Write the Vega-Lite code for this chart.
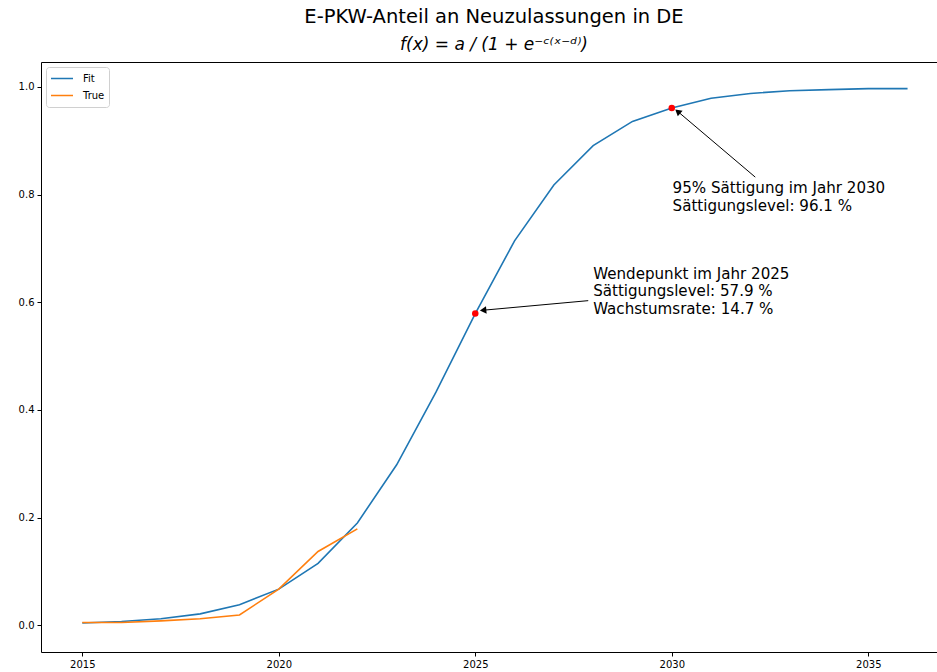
{
  "$schema": "https://vega.github.io/schema/vega-lite/v6.json",
  "autosize": {"type": "none"},
  "width": 898,
  "height": 590,
  "padding": {"left": 41, "top": 62, "right": 0, "bottom": 20},
  "background": "white",
  "config": {
    "font": "DejaVu Sans",
    "view": {"stroke": "#000000", "strokeWidth": 1},
    "axis": {"grid": false, "domain": false, "tickColor": "#000000", "tickSize": 4, "labelColor": "#000000", "labelFontSize": 10, "labelPadding": 3, "titleFontSize": 10}
  },
  "title": {
    "text": "E-PKW-Anteil an Neuzulassungen in DE",
    "subtitle": "f(x) = a / (1 + e⁻ᶜ⁽ˣ⁻ᵈ⁾)",
    "fontSize": 19.5,
    "fontWeight": "normal",
    "color": "#000000",
    "subtitleFontSize": 17,
    "subtitleColor": "#000000",
    "subtitleFontStyle": "italic",
    "subtitlePadding": 10,
    "anchor": "middle",
    "dx": 4,
    "offset": 8
  },
  "datasets": {
    "series": [
      {"year": 2015, "value": 0.004, "series": "Fit"},
      {"year": 2016, "value": 0.007, "series": "Fit"},
      {"year": 2017, "value": 0.012, "series": "Fit"},
      {"year": 2018, "value": 0.021, "series": "Fit"},
      {"year": 2019, "value": 0.038, "series": "Fit"},
      {"year": 2020, "value": 0.067, "series": "Fit"},
      {"year": 2021, "value": 0.115, "series": "Fit"},
      {"year": 2022, "value": 0.19, "series": "Fit"},
      {"year": 2023, "value": 0.298, "series": "Fit"},
      {"year": 2024, "value": 0.433, "series": "Fit"},
      {"year": 2025, "value": 0.579, "series": "Fit"},
      {"year": 2026, "value": 0.714, "series": "Fit"},
      {"year": 2027, "value": 0.818, "series": "Fit"},
      {"year": 2028, "value": 0.891, "series": "Fit"},
      {"year": 2029, "value": 0.936, "series": "Fit"},
      {"year": 2030, "value": 0.961, "series": "Fit"},
      {"year": 2031, "value": 0.979, "series": "Fit"},
      {"year": 2032, "value": 0.988, "series": "Fit"},
      {"year": 2033, "value": 0.993, "series": "Fit"},
      {"year": 2034, "value": 0.995, "series": "Fit"},
      {"year": 2035, "value": 0.997, "series": "Fit"},
      {"year": 2036, "value": 0.997, "series": "Fit"},
      {"year": 2015, "value": 0.005, "series": "True"},
      {"year": 2016, "value": 0.005, "series": "True"},
      {"year": 2017, "value": 0.008, "series": "True"},
      {"year": 2018, "value": 0.012, "series": "True"},
      {"year": 2019, "value": 0.019, "series": "True"},
      {"year": 2020, "value": 0.067, "series": "True"},
      {"year": 2021, "value": 0.137, "series": "True"},
      {"year": 2022, "value": 0.179, "series": "True"}
    ],
    "marks": [
      {"year": 2025, "value": 0.579},
      {"year": 2030, "value": 0.961}
    ],
    "arrows": [
      {"year": 2027.875, "value": 0.603, "year2": 2025.2, "value2": 0.5852},
      {"year": 2032.125, "value": 0.8325, "year2": 2030.152, "value2": 0.9545}
    ],
    "labels": [
      {"year": 2028.0, "value": 0.6438, "label": ["Wendepunkt im Jahr 2025", "Sättigungslevel: 57.9 %", "Wachstumsrate: 14.7 %"]},
      {"year": 2030.02, "value": 0.8028, "label": ["95% Sättigung im Jahr 2030", "Sättigungslevel: 96.1 %"]}
    ]
  },
  "layer": [
    {
      "data": {"name": "series"},
      "mark": {"type": "line", "strokeWidth": 1.6, "clip": true},
      "encoding": {
        "x": {
          "field": "year", "type": "quantitative",
          "scale": {"domain": [2013.95, 2036.8], "nice": false, "zero": false},
          "axis": {"values": [2015, 2020, 2025, 2030, 2035], "format": "d", "title": null}
        },
        "y": {
          "field": "value", "type": "quantitative",
          "scale": {"domain": [-0.0498, 1.0464], "nice": false, "zero": false},
          "axis": {"values": [0, 0.2, 0.4, 0.6, 0.8, 1.0], "format": ".1f", "title": null}
        },
        "color": {
          "field": "series", "type": "nominal",
          "scale": {"domain": ["Fit", "True"], "range": ["#1f77b4", "#ff7f0e"]},
          "legend": {
            "title": null,
            "orient": "top-left",
            "offset": 5,
            "fillColor": "white",
            "strokeColor": "#d0d0d0",
            "cornerRadius": 3,
            "padding": 4,
            "symbolType": "stroke",
            "symbolSize": 484,
            "symbolStrokeWidth": 1.6,
            "clipHeight": 15,
            "rowPadding": 2,
            "labelFontSize": 10,
            "labelOffset": 9,
            "labelColor": "#000000"
          }
        }
      }
    },
    {
      "data": {"name": "marks"},
      "mark": {"type": "point", "filled": true, "color": "#ff0000", "size": 42, "opacity": 1},
      "encoding": {
        "x": {"field": "year", "type": "quantitative"},
        "y": {"field": "value", "type": "quantitative"}
      }
    },
    {
      "data": {"name": "arrows"},
      "mark": {"type": "rule", "color": "#000000", "strokeWidth": 1},
      "encoding": {
        "x": {"field": "year", "type": "quantitative"},
        "y": {"field": "value", "type": "quantitative"},
        "x2": {"field": "year2"},
        "y2": {"field": "value2"}
      }
    },
    {
      "data": {"values": [{"year": 2025.2, "value": 0.5852}]},
      "mark": {"type": "point", "shape": "triangle-up", "filled": true, "color": "#000000", "size": 55, "angle": 264.8, "opacity": 1},
      "encoding": {
        "x": {"field": "year", "type": "quantitative"},
        "y": {"field": "value", "type": "quantitative"}
      }
    },
    {
      "data": {"values": [{"year": 2030.152, "value": 0.9545}]},
      "mark": {"type": "point", "shape": "triangle-up", "filled": true, "color": "#000000", "size": 55, "angle": 310.3, "opacity": 1},
      "encoding": {
        "x": {"field": "year", "type": "quantitative"},
        "y": {"field": "value", "type": "quantitative"}
      }
    },
    {
      "data": {"name": "labels"},
      "mark": {"type": "text", "align": "left", "baseline": "alphabetic", "fontSize": 15.1, "lineHeight": 17.6, "color": "#000000"},
      "encoding": {
        "x": {"field": "year", "type": "quantitative"},
        "y": {"field": "value", "type": "quantitative"},
        "text": {"field": "label"}
      }
    }
  ]
}
